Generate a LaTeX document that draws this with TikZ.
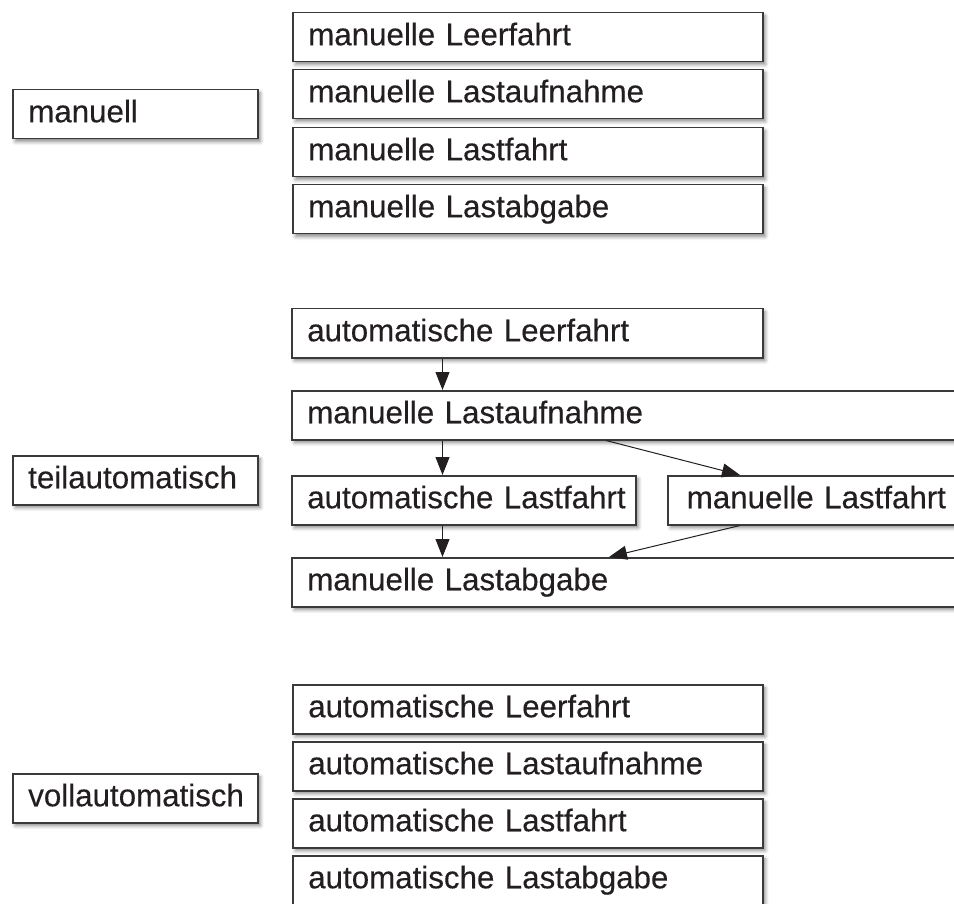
\documentclass[tikz,border=0pt]{standalone}
\usepackage{fontspec}
\setmainfont{Liberation Sans}[FakeBold=0.3]
\usetikzlibrary{arrows.meta,shadows.blur}
\definecolor{edge}{HTML}{3A3A3A}
\definecolor{ink}{HTML}{231F20}
\begin{document}
\begin{tikzpicture}[x=1pt,y=-1pt,
  box/.style={draw=edge, line width=1.5pt, fill=white, rectangle, anchor=north west,
    minimum height=49pt, inner xsep=15.5pt, inner ysep=0pt, text height=23pt, text depth=7pt,
    align=left, text=ink, font=\fontsize{31.3}{36}\selectfont,
    blur shadow={shadow xshift=2.5pt, shadow yshift=-3pt, shadow blur radius=3.5pt, shadow opacity=45}},
  arr/.style={draw=ink, line width=1pt, -{Triangle[length=18pt,width=14pt]}}]
\useasboundingbox (0,0) rectangle (954,904);
\clip (0,0) rectangle (954,904);
% top group
\node[box, text width=214pt] (m) at (12,89) {manuell};
\node[box, text width=439pt] (m1) at (292,12) {manuelle Leerfahrt};
\node[box, text width=439pt] (m2) at (292,69) {manuelle Lastaufnahme};
\node[box, text width=439pt] (m3) at (292,127) {manuelle Lastfahrt};
\node[box, text width=439pt] (m4) at (292,184) {manuelle Lastabgabe};
% middle group
\node[box, text width=214pt] (t) at (12,455) {teilautomatisch};
\node[box, text width=440pt] (t1) at (291,308) {automatische Leerfahrt};
\node[box, text width=700pt] (t2) at (291,390) {manuelle Lastaufnahme};
\node[box, text width=313pt] (t3) at (291,475) {\mbox{automatische Lastfahrt}};
\node[box, inner xsep=19pt, text width=262pt] (t4) at (667,475) {manuelle Lastfahrt};
\node[box, text width=700pt] (t5) at (291,557) {manuelle Lastabgabe};
% bottom group
\node[box, text width=214pt] (v) at (12,773) {vollautomatisch};
\node[box, text width=439pt] (v1) at (292,684) {automatische Leerfahrt};
\node[box, text width=439pt] (v2) at (292,741) {automatische Lastaufnahme};
\node[box, text width=439pt] (v3) at (292,798) {automatische Lastfahrt};
\node[box, text width=439pt] (v4) at (292,855) {automatische Lastabgabe};
% connectors
\coordinate (vx) at (442.5,0);
\coordinate (d1) at (606,0);
\coordinate (d2) at (740,0);
\coordinate (d3) at (609,0);
\draw[arr] (vx |- t1.south) -- (vx |- t2.north);
\draw[arr] (vx |- t2.south) -- (vx |- t3.north);
\draw[arr] (vx |- t3.south) -- (vx |- t5.north);
\draw[arr] (d1 |- t2.south) -- (d2 |- t4.north);
\draw[arr] (d2 |- t4.south) -- (d3 |- t5.north);
\end{tikzpicture}
\end{document}
